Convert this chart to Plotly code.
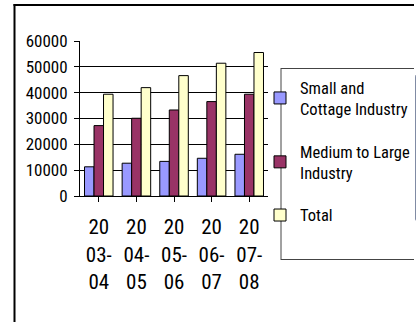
import plotly.graph_objects as go

categories = ["2003-04", "2004-05", "2005-06", "2006-07", "2007-08"]
tick_labels = ["20<br>03-<br>04", "20<br>04-<br>05", "20<br>05-<br>06", "20<br>06-<br>07", "20<br>07-<br>08"]
small_cottage = [11300, 12700, 13400, 14600, 16150]
medium_large = [27250, 30100, 33300, 36550, 39400]
total = [39400, 41950, 46600, 51400, 55550]

series_names = ["Small and<br>Cottage Industry", "Medium to Large<br>Industry", "Total"]
series_colors = ["#9999FF", "#993366", "#FFFFCC"]
series_values = [small_cottage, medium_large, total]

FONT = "Roboto Condensed, Liberation Sans, Arial, sans-serif"

fig = go.Figure()
for i, (name, color, vals) in enumerate(zip(series_names, series_colors, series_values)):
    fig.add_trace(go.Bar(
        x=categories, y=vals, name=name, legendgroup=f"g{i}",
        marker=dict(color=color, line=dict(color="black", width=1)),
    ))

W, H = 416, 324
L, R, T, B = 80, 148, 41, 128
pw, ph = W - L - R, H - T - B

def px_x(p):
    return (p - L) / pw

def px_y(p):
    return (H - B - p) / ph

def seg(x0, y0, x1, y1, color, width):
    return dict(type="line", xref="paper", yref="paper",
                x0=px_x(x0), x1=px_x(x1), y0=px_y(y0), y1=px_y(y1),
                line=dict(color=color, width=width), layer="below")

fig.update_layout(
    width=W, height=H, autosize=False,
    margin=dict(l=L, r=R, t=T, b=B, pad=0, autoexpand=False),
    paper_bgcolor="white", plot_bgcolor="white",
    barmode="group", bargap=0.24, bargroupgap=0,
    font=dict(family=FONT, color="black"),
    showlegend=True,
    legend=dict(
        x=px_x(260), y=px_y(70), xanchor="left", yanchor="top",
        bgcolor="rgba(0,0,0,0)", borderwidth=0,
        font=dict(size=16.5, family=FONT, color="black"),
        tracegroupgap=18,
        itemwidth=30,
    ),
    xaxis=dict(
        tickmode="array", tickvals=categories, ticktext=tick_labels,
        tickson="boundaries", ticks="outside", ticklen=5, tickcolor="black",
        showline=True, linecolor="black", linewidth=1,
        tickfont=dict(size=21, family=FONT),
        tickangle=0,
        ticklabelstandoff=7,
        showgrid=False,
    ),
    yaxis=dict(
        range=[0, 60000], tickvals=[0, 10000, 20000, 30000, 40000, 50000, 60000],
        ticktext=["0", "10000", "20000", "30000", "40000", "50000", "60000"],
        ticks="outside", ticklen=5, tickcolor="black",
        showline=True, linecolor="black", linewidth=1,
        showgrid=True, gridcolor="black", gridwidth=1,
        zeroline=False,
        tickfont=dict(size=17, family=FONT),
        ticklabelstandoff=3,
    ),
    shapes=[
        seg(14.5, 322, 14.5, 4, "black", 2),
        seg(13.5, 5, 414, 5, "black", 2),
        seg(281, 68.5, 414, 68.5, "#444444", 1),
        seg(281, 68, 281, 260, "#444444", 1),
        seg(281, 259.5, 414, 259.5, "#444444", 1),
    ],
)

fig.write_html(
    "out.html",
    post_script="document.documentElement.style.overflow='hidden';document.body.style.overflow='hidden';document.body.style.margin='0';",
)
